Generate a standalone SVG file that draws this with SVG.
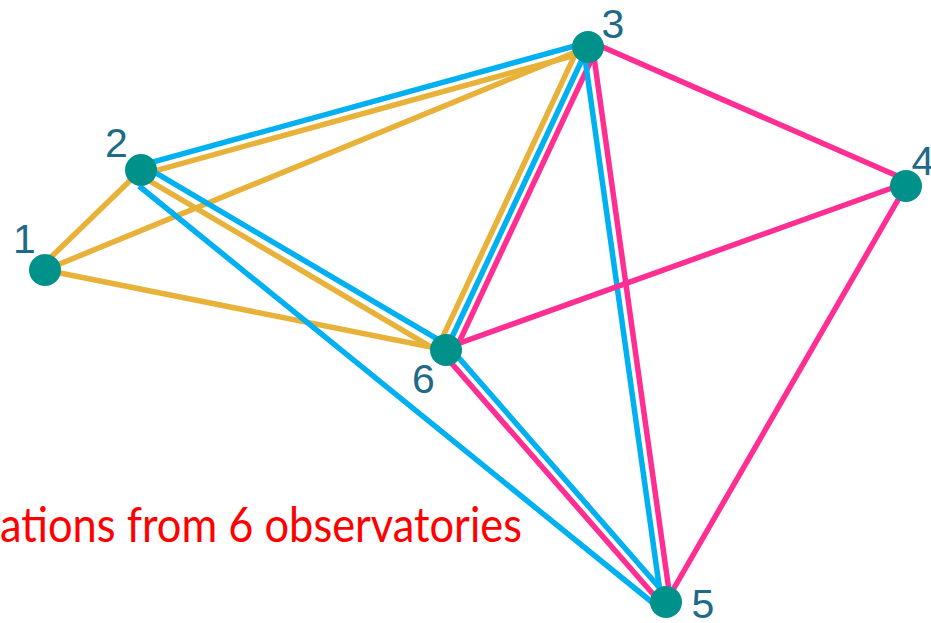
<svg xmlns="http://www.w3.org/2000/svg" width="931" height="623" viewBox="0 0 931 623">
  <style>
    .e { fill: none; stroke-width: 5.5; stroke-linecap: butt; }
    .gold { stroke: #E8B23A; }
    .blue { stroke: #00B0F0; }
    .pink { stroke: #FF2E93; }
    .node circle { fill: #00918B; }
    .lbl { font-family: "Liberation Sans", Arial, sans-serif; font-size: 41px; fill: #1F6A86; text-anchor: middle; }
    .cap { font-family: Lato, "Open Sans", sans-serif; font-size: 48px; fill: #FF0000; }
  </style>
  <rect x="0" y="0" width="931" height="623" fill="#FFFFFF"/>
  <g id="connectors">
    <line class="e gold" x1="46" y1="262" x2="141" y2="170"/>
    <line class="e gold" x1="45" y1="270" x2="588" y2="47"/>
    <line class="e gold" x1="45" y1="270" x2="446" y2="350"/>
    <line class="e blue" x1="139.7" y1="165.7" x2="586.7" y2="42.7"/>
    <line class="e gold" x1="142.3" y1="174.3" x2="589.3" y2="51.3"/>
    <line class="e blue" x1="143.5" y1="165.7" x2="448.5" y2="345.7"/>
    <line class="e gold" x1="138.5" y1="174.3" x2="443.5" y2="354.3"/>
    <line class="e blue" x1="139" y1="186" x2="653" y2="603"/>
    <line class="e gold" x1="580.3" y1="43.4" x2="438.3" y2="346.4"/>
    <line class="e blue" x1="588" y1="47" x2="446" y2="350"/>
    <line class="e pink" x1="595.7" y1="50.6" x2="453.7" y2="353.6"/>
    <line class="e blue" x1="583.5" y1="47.6" x2="661.5" y2="602.6"/>
    <line class="e pink" x1="592.5" y1="46.4" x2="670.5" y2="601.4"/>
    <line class="e pink" x1="442.6" y1="353" x2="662.6" y2="605"/>
    <line class="e blue" x1="449.4" y1="347" x2="669.4" y2="599"/>
    <line class="e pink" x1="598" y1="45" x2="902" y2="178"/>
    <line class="e pink" x1="446" y1="348" x2="906" y2="183"/>
    <line class="e pink" x1="906" y1="186" x2="666" y2="602"/>
  </g>
  <g id="node1" class="node"><circle cx="45" cy="270" r="16"/><text class="lbl" x="24.5" y="253">1</text></g>
  <g id="node2" class="node"><circle cx="141" cy="170" r="16"/><text class="lbl" x="116.5" y="157">2</text></g>
  <g id="node3" class="node"><circle cx="588" cy="47" r="16"/><text class="lbl" x="613" y="38">3</text></g>
  <g id="node4" class="node"><circle cx="906" cy="186" r="16"/><text class="lbl" x="923" y="175">4</text></g>
  <g id="node5" class="node"><circle cx="666" cy="602" r="16"/><text class="lbl" x="703" y="618">5</text></g>
  <g id="node6" class="node"><circle cx="446" cy="350" r="16"/><text class="lbl" x="423.5" y="393">6</text></g>
  <text class="cap" x="0" y="541.5" textLength="522" lengthAdjust="spacingAndGlyphs">ations from 6 observatories</text>
</svg>
